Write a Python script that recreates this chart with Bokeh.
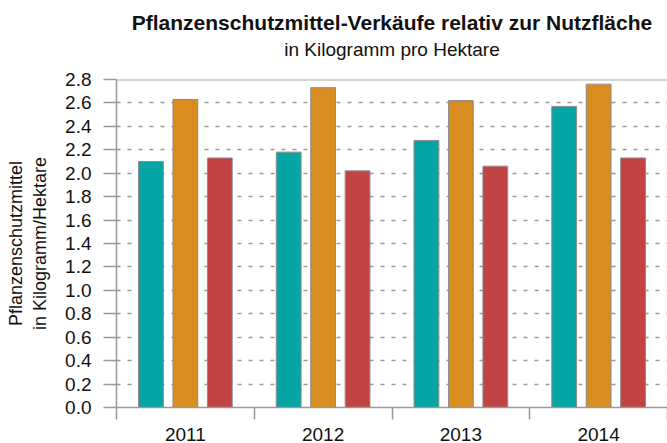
from bokeh.plotting import figure
from bokeh.models import ColumnDataSource, FixedTicker, Span, Label, LinearAxis, Range1d
from bokeh.layouts import column
from bokeh.embed import file_html
from bokeh.resources import INLINE

years = ["2011", "2012", "2013", "2014"]
series_a = [2.10, 2.18, 2.28, 2.57]
series_b = [2.63, 2.73, 2.62, 2.76]
series_c = [2.13, 2.02, 2.06, 2.13]
colors = ["#05a5a5", "#d98c1f", "#c24343"]
y_ticks = [round(0.2 * i, 1) for i in range(15)]
title_text = "Pflanzenschutzmittel-Verkäufe relativ zur Nutzfläche"
subtitle_text = "in Kilogramm pro Hektare"
y_label = "Pflanzenschutzmittel\nin Kilogramm/Hektare"

FONT = "Liberation Sans"
Y_MAX = 2.8
# layout (pixels)
W, H = 667, 443
LEFT, BOTTOM = 116, 33
HEADER_H = 65
MAIN_TOP = 14
N = len(years)
TITLE_BASE = 22      # baseline of the title, px from the top
SUBTITLE_BASE = 49   # baseline of the subtitle, px from the top

# ---- header with title and subtitle (same x range as the chart, so centred on its frame) ----
hdr = figure(width=W, height=HEADER_H, x_range=Range1d(0, N), y_range=Range1d(0, HEADER_H),
             output_backend="svg", toolbar_location=None, x_axis_type=None, y_axis_type=None,
             min_border=0, min_border_left=0, min_border_right=0,
             min_border_top=0, min_border_bottom=0)
hdr.outline_line_color = None
hdr.xgrid.grid_line_color = None
hdr.ygrid.grid_line_color = None
hdr.add_layout(Label(x=N / 2, y=HEADER_H - TITLE_BASE, text=title_text, text_align="center",
                     text_baseline="alphabetic", text_font=FONT, text_font_size="21px",
                     text_font_style="bold", text_color="#111111"))
hdr.add_layout(Label(x=N / 2, y=HEADER_H - SUBTITLE_BASE, text=subtitle_text, text_align="center",
                     text_baseline="alphabetic", text_font=FONT, text_font_size="19px",
                     text_color="#111111"))

# ---- main chart ----
p = figure(width=W, height=H - HEADER_H, x_range=Range1d(0, N), y_range=Range1d(0, Y_MAX),
           output_backend="svg", toolbar_location=None, x_axis_type=None,
           min_border_left=LEFT, min_border_right=0, min_border_top=MAIN_TOP,
           min_border_bottom=BOTTOM)
p.outline_line_color = None

centers = [i + 0.5 for i in range(N)]
offsets = [-0.25, 0.0, 0.25]
for vals, off, col in zip([series_a, series_b, series_c], offsets, colors):
    src = ColumnDataSource(dict(x=[c + off for c in centers], top=vals))
    p.vbar(x="x", top="top", bottom=0, width=0.18, source=src,
           fill_color=col, line_color="#8c8c8c", line_width=1)

xaxis = LinearAxis(ticker=FixedTicker(ticks=centers, minor_ticks=list(range(N + 1))))
xaxis.major_label_overrides = {c: y for c, y in zip(centers, years)}
xaxis.major_tick_out = 0
xaxis.major_tick_in = 0
xaxis.minor_tick_out = 12
xaxis.minor_tick_in = 0
xaxis.minor_tick_line_color = "#999999"
xaxis.minor_tick_line_width = 1.5
xaxis.axis_line_color = "#999999"
xaxis.axis_line_width = 1.5
xaxis.major_label_standoff = 8
xaxis.major_label_text_font = FONT
xaxis.major_label_text_font_size = "19px"
xaxis.major_label_text_color = "#111111"
p.add_layout(xaxis, "below")

ya = p.yaxis[0]
ya.ticker = FixedTicker(ticks=y_ticks)
ya.major_label_overrides = {t: f"{t:.1f}" for t in y_ticks}
ya.minor_tick_line_color = None
ya.major_tick_out = 13
ya.major_tick_in = 0
ya.major_tick_line_color = "#999999"
ya.major_tick_line_width = 1.5
ya.axis_line_color = "#999999"
ya.axis_line_width = 1.5
ya.major_label_standoff = 12
ya.major_label_text_font = FONT
ya.major_label_text_font_size = "19px"
ya.major_label_text_color = "#111111"
ya.axis_label = y_label
ya.axis_label_text_font = FONT
ya.axis_label_text_font_size = "18px"
ya.axis_label_text_font_style = "normal"
ya.axis_label_text_color = "#111111"
ya.axis_label_standoff = 12

p.xgrid.grid_line_color = None
p.ygrid.ticker = FixedTicker(ticks=y_ticks)
p.ygrid.grid_line_color = "#999999"
p.ygrid.grid_line_dash = "4 7"
p.ygrid.grid_line_width = 1.5

top = Span(location=Y_MAX, dimension="width", line_color="#aaaaaa", line_width=2)
p.add_layout(top)

layout = column(hdr, p, spacing=0)
open("out.html", "w").write(file_html(layout, INLINE))
